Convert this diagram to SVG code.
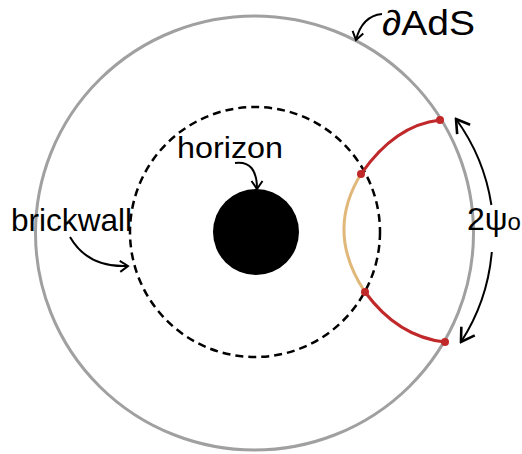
<svg xmlns="http://www.w3.org/2000/svg" width="522" height="454" viewBox="0 0 522 454">
<style>
.lbl{font-family:"Liberation Sans",Arial,sans-serif;fill:#000}
.ann{fill:none;stroke:#000;stroke-width:2}
.red{fill:none;stroke:#c0282a;stroke-width:3}
.dot{fill:#c0282a}
</style>
<defs>
<marker id="big" viewBox="-16 -10 18 20" refX="0" refY="0" markerWidth="18" markerHeight="20" markerUnits="userSpaceOnUse" orient="auto-start-reverse">
<path d="M-13,-8 L0,0 L-13,8" fill="none" stroke="#000" stroke-width="2.6"/>
</marker>
<marker id="sm" viewBox="-12 -8 14 16" refX="0" refY="0" markerWidth="14" markerHeight="16" markerUnits="userSpaceOnUse" orient="auto">
<path d="M-8,-5.5 L0,0 L-8,5.5" fill="none" stroke="#000" stroke-width="2"/>
</marker>
</defs>
<rect width="522" height="454" fill="#fff"/>
<g id="boundary"><ellipse cx="254.5" cy="233" rx="219" ry="217" fill="none" stroke="#a0a0a0" stroke-width="3"/></g>
<g id="horizonCircle"><circle cx="255" cy="232" r="125" fill="none" stroke="#000" stroke-width="2.5" stroke-dasharray="8 5"/></g>
<g id="blackhole"><circle cx="256" cy="232" r="43" fill="#000"/></g>
<g id="curves">
<path d="M361,174 Q325,232 365,292" fill="none" stroke="#e0b87a" stroke-width="3"/>
<path class="red" d="M361,174 Q395,125 440,120"/>
<path class="red" d="M365,292 Q398,337 445,342"/>
<circle class="dot" cx="440" cy="120" r="4"/>
<circle class="dot" cx="361" cy="174" r="4"/>
<circle class="dot" cx="365" cy="292" r="4"/>
<circle class="dot" cx="445" cy="342" r="4"/>
</g>
<g id="connectors">
<path class="ann" stroke-width="2.6" d="M491.4,205 A197,197 0 0 0 456,119" marker-end="url(#big)"/>
<path class="ann" stroke-width="2.6" d="M491.8,252 A197,197 0 0 1 461,342" marker-end="url(#big)"/>
<path class="ann" d="M382,14 Q362,16 356,40" marker-end="url(#sm)"/>
<path class="ann" d="M235,163 Q257,160 257,189" marker-end="url(#sm)"/>
<path class="ann" d="M70,237 Q88,268 128,266" marker-end="url(#sm)"/>
</g>
<g id="labels">
<text class="lbl" x="382" y="35" font-size="35" textLength="93" lengthAdjust="spacingAndGlyphs">∂AdS</text>
<text class="lbl" x="177" y="158" font-size="29.5" textLength="106" lengthAdjust="spacingAndGlyphs">horizon</text>
<text class="lbl" x="11" y="231" font-size="31.5" textLength="121" lengthAdjust="spacingAndGlyphs">brickwall</text>
<text class="lbl" x="467" y="230" font-size="32">2ψ<tspan font-size="24">o</tspan></text>
</g>
</svg>
